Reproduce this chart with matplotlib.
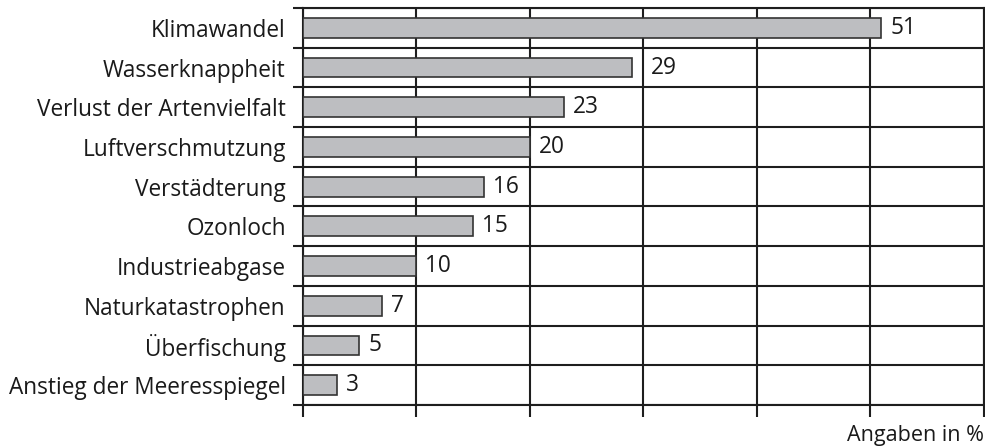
import matplotlib
matplotlib.use("Agg")
import matplotlib.pyplot as plt
import numpy as np

# data, top to bottom as in the chart
categories = ["Klimawandel", "Wasserknappheit", "Verlust der Artenvielfalt",
              "Luftverschmutzung", "Verstädterung", "Ozonloch",
              "Industrieabgase", "Naturkatastrophen", "Überfischung",
              "Anstieg der Meeresspiegel"]
values = [51, 29, 23, 20, 16, 15, 10, 7, 5, 3]
xticks = [0, 10, 20, 30, 40, 50, 60]

plt.rcParams['font.family'] = ['Open Sans', 'DejaVu Sans']

W, H = 985, 446
fig = plt.figure(figsize=(W / 100, H / 100), dpi=100)
ax = fig.add_axes([302.5 / W, 1 - 405 / H, (983.5 - 302.5) / W, (405 - 8) / H])

n = len(categories)
ypos = np.arange(n)[::-1]
linec = "#1e1e1e"
lw = 1.5
fs = 16.3

ax.barh(ypos, values, height=0.5, color="#bdbec1", edgecolor="#333333",
        linewidth=1.2, zorder=3)

ax.set_xlim(0, 60)
ax.set_ylim(-0.5, n - 0.5)

# value labels; push a label past a grid line if it would sit on it
unit = (983.5 - 302.5) / 60.0
for y, v in zip(ypos, values):
    off = 9
    start = v + off / unit
    width = 1.15 * len(str(v))
    for t in xticks:
        if start - 0.3 < t < start + width:
            off = (t - v) * unit + 8
    ax.annotate(str(v), (v, y), xytext=(off, 0), textcoords="offset pixels",
                va="center", ha="left", fontsize=fs, color="#1a1a1a")

ax.set_xticks(xticks)
ax.set_xticklabels([])
ax.set_yticks(ypos)
ax.set_yticklabels(categories, fontsize=fs, color="#1a1a1a")
ax.set_yticks(np.arange(n + 1) - 0.5, minor=True)

ax.tick_params(axis="y", which="major", length=0, pad=12)
ax.tick_params(axis="y", which="minor", length=7.5, width=lw, color=linec)
ax.tick_params(axis="x", length=8.5, width=lw, color=linec)

# grid lines
ax.grid(axis="x", color=linec, linewidth=lw, zorder=1)
ax.grid(axis="y", which="minor", color=linec, linewidth=lw, zorder=1)
for s in ax.spines.values():
    s.set_color(linec)
    s.set_linewidth(lw)

fig.text(984 / W, 1 - 435 / H, "Angaben in %", ha="right", va="center",
         fontsize=15.5, color="#1a1a1a")

fig.savefig("out.png", dpi=100)
